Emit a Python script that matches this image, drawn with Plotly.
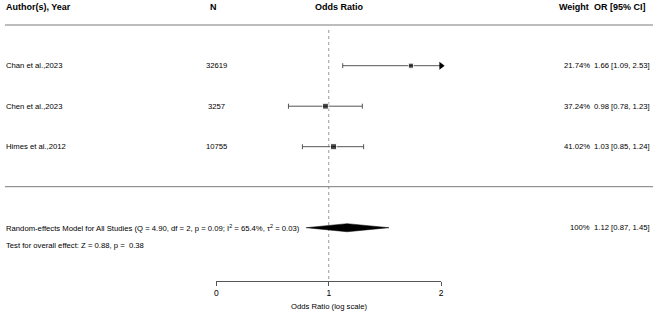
import math
import plotly.graph_objects as go

# ---------------- data ----------------
studies = ["Chan et al.,2023", "Chen et al.,2023", "Himes et al.,2012"]
n_values = ["32619", "3257", "10755"]
or_est = [1.66, 0.98, 1.03]
ci_low = [1.09, 0.78, 0.85]
ci_high = [2.53, 1.23, 1.24]
weights = [21.74, 37.24, 41.02]

pooled_est = 1.12
pooled_low = 0.87
pooled_high = 1.45
pooled_weight = 100

tick_vals = [0.5, 1, 2]
tick_text = ["0", "1", "2"]

header_labels = ["Author(s), Year", "N", "Odds Ratio", "Weight", "OR [95% CI]"]
summary_label = ("Random-effects Model for All Studies (Q = 4.90, df = 2, p = 0.09; "
                 "I<sup>2</sup> = 65.4%, τ<sup>2</sup> = 0.03)")
test_label = "Test for overall effect: Z = 0.88, p =  0.38"
axis_title = "Odds Ratio (log scale)"

# ---------------- layout helpers ----------------
W, H = 658, 313
ROW0_PX, ROW_STEP = 146.7, 40.5   # pixel of row y=1 and pixels per row
PAD = 3                            # annotation inner padding


def yv(px):
    """pixel row -> y axis value"""
    return 1 + (ROW0_PX - px) / ROW_STEP


def xp(px):
    return px / W


study_rows = [3, 2, 1]
summary_row = -1
FONT = "Liberation Sans, Arial, sans-serif"
TXT = 7.7
HDR = 9

fig = go.Figure()

# reference line at OR = 1
fig.add_trace(go.Scatter(
    x=[1, 1], y=[yv(30), yv(281)], mode="lines",
    line=dict(color="#9a9a9a", width=1, dash="dot"),
    hoverinfo="skip", showlegend=False))

# study CIs + squares
fig.add_trace(go.Scatter(
    x=or_est, y=study_rows, mode="markers",
    marker=dict(symbol="square", color="black",
                size=[4 + 5 * w / 100 for w in weights]),
    error_x=dict(type="data", symmetric=False,
                 array=[h - e for h, e in zip(ci_high, or_est)],
                 arrayminus=[e - l for e, l in zip(or_est, ci_low)],
                 color="#555555", thickness=1, width=2.5),
    showlegend=False, hoverinfo="skip"))

# arrows for CIs running beyond the axis limit
xmax = max(tick_vals)
arrow_x = [xmax for h in ci_high if h > xmax]
arrow_y = [r for r, h in zip(study_rows, ci_high) if h > xmax]
fig.add_trace(go.Scatter(
    x=arrow_x, y=arrow_y, mode="markers", cliponaxis=False,
    marker=dict(symbol="triangle-right", color="black", size=7),
    showlegend=False, hoverinfo="skip"))

# pooled diamond
dh = 0.1
fig.add_trace(go.Scatter(
    x=[pooled_low, pooled_est, pooled_high, pooled_est, pooled_low],
    y=[summary_row, summary_row + dh, summary_row, summary_row - dh, summary_row],
    mode="lines", fill="toself", fillcolor="black",
    line=dict(color="black", width=0.5),
    showlegend=False, hoverinfo="skip"))

# ---------------- text ----------------
ann = []


def add_text(text, x_px, y, anchor, size=TXT, bold=False, yref="y"):
    if anchor == "left":
        x_px -= PAD
    elif anchor == "right":
        x_px += PAD
    ann.append(dict(
        text=f"<b>{text}</b>" if bold else text, x=xp(x_px), xref="paper",
        y=y, yref=yref, xanchor=anchor, yanchor="middle", showarrow=False,
        font=dict(family=FONT, size=size, color="black")))


# header
hy = yv(7)
add_text(header_labels[0], 5, hy, "left", HDR, True)
add_text(header_labels[1], 213, hy, "center", HDR, True)
add_text(header_labels[2], 340, hy, "center", HDR, True)
add_text(header_labels[3], 591, hy, "right", HDR, True)
add_text(header_labels[4], 648, hy, "right", HDR, True)

for s, n, e, l, h, w, r in zip(studies, n_values, or_est, ci_low, ci_high, weights, study_rows):
    add_text(s, 5.5, r, "left")
    add_text(n, 216.5, r, "center")
    add_text(f"{w:.2f}%", 591.5, r, "right")
    add_text(f"{e:.2f} [{l:.2f}, {h:.2f}]", 652, r, "right")

add_text(summary_label, 5.5, summary_row, "left")
add_text(f"{pooled_weight}%", 591.5, summary_row, "right")
add_text(f"{pooled_est:.2f} [{pooled_low:.2f}, {pooled_high:.2f}]", 652, summary_row, "right")
add_text(test_label, 5.5, yv(245.5), "left")
add_text(axis_title, 329, yv(306), "center", TXT)

# horizontal rules
shapes = []
for px in (25, 186.7):
    shapes.append(dict(type="line", xref="paper", yref="y",
                       x0=xp(3), x1=xp(656), y0=yv(px), y1=yv(px),
                       line=dict(color="#7a7a7a", width=1)))

fig.update_layout(
    width=W, height=H,
    margin=dict(l=0, r=0, t=0, b=0),
    paper_bgcolor="white", plot_bgcolor="white",
    annotations=ann, shapes=shapes,
    font=dict(family=FONT, color="black"),
    xaxis=dict(type="log", domain=[216 / W, 442.5 / W],
               range=[math.log10(min(tick_vals)), math.log10(max(tick_vals))],
               anchor="free", position=1 - 281 / H,
               showline=True, linecolor="#555555", linewidth=1,
               ticks="outside", ticklen=4, tickcolor="#555555",
               tickvals=tick_vals, ticktext=tick_text,
               tickfont=dict(family=FONT, size=8.5, color="black"),
               showgrid=False, zeroline=False, fixedrange=True),
    yaxis=dict(range=[yv(H), yv(0)], domain=[0, 1], visible=False,
               showgrid=False, zeroline=False, fixedrange=True),
)

fig.write_html("out.html", config={"displayModeBar": False},
               post_script="document.body.style.margin='0';document.body.style.overflow='hidden';")
